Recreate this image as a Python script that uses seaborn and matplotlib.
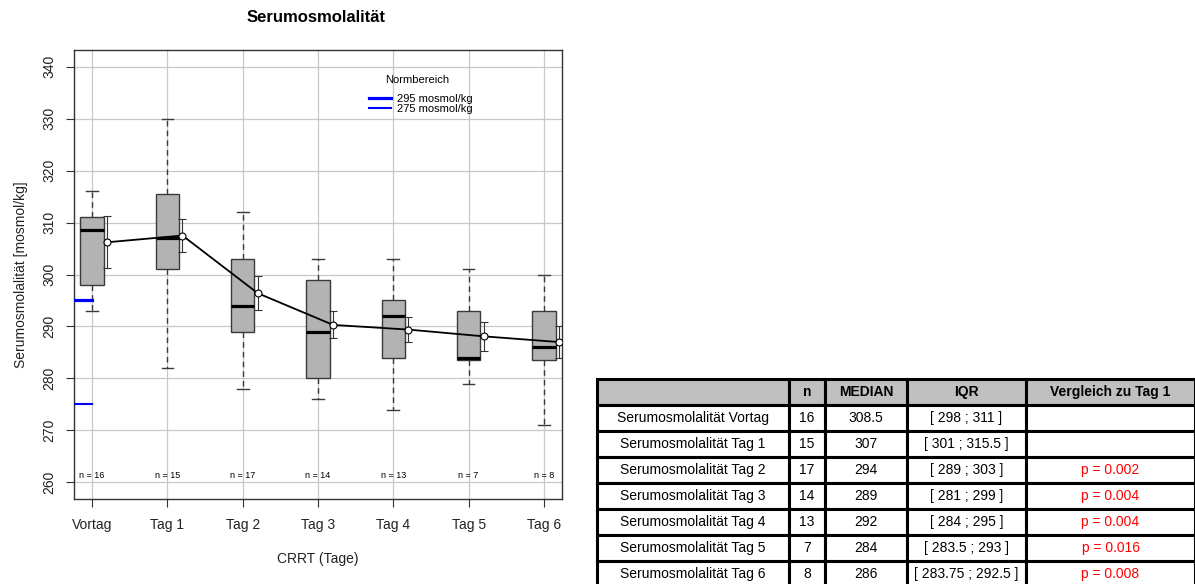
import numpy as np
import pandas as pd
import matplotlib
matplotlib.use("Agg")
import matplotlib.pyplot as plt
import seaborn as sns
from matplotlib.lines import Line2D

plt.rcParams['font.family'] = ['Liberation Sans', 'DejaVu Sans']

# ---- data ----
days = ["Vortag", "Tag 1", "Tag 2", "Tag 3", "Tag 4", "Tag 5", "Tag 6"]
whisk_low = [293, 282, 278, 276, 274, 279, 271]
q1 = [298, 301, 289, 280, 284, 283.5, 283.5]
medians = [308.5, 307, 294, 289, 292, 284, 286]
q3 = [311, 315.5, 303, 299, 295, 293, 293]
whisk_high = [316, 330, 312, 303, 303, 301, 300]
means = [306.2, 307.5, 296.4, 290.3, 289.4, 288.1, 287.0]
ci_half = [5.0, 3.1, 3.3, 2.6, 2.4, 2.85, 3.1]
n_counts = [16, 15, 17, 14, 13, 7, 8]
norm_values = [295, 275]
norm_labels = ["295 mosmol/kg", "275 mosmol/kg"]

table_header = ["", "n", "MEDIAN", "IQR", "Vergleich zu Tag 1"]
table_rows = ["Serumosmolalität Vortag", "Serumosmolalität Tag 1", "Serumosmolalität Tag 2",
              "Serumosmolalität Tag 3", "Serumosmolalität Tag 4", "Serumosmolalität Tag 5",
              "Serumosmolalität Tag 6"]
table_n = ["16", "15", "17", "14", "13", "7", "8"]
table_median = ["308.5", "307", "294", "289", "292", "284", "286"]
table_iqr = ["[ 298 ; 311 ]", "[ 301 ; 315.5 ]", "[ 289 ; 303 ]", "[ 281 ; 299 ]",
             "[ 284 ; 295 ]", "[ 283.5 ; 293 ]", "[ 283.75 ; 292.5 ]"]
table_p = ["", "", "p = 0.002", "p = 0.004", "p = 0.004", "p = 0.016", "p = 0.008"]

# five-number summaries as long data
records = []
for d, a, b, c, e, f in zip(days, whisk_low, q1, medians, q3, whisk_high):
    for v in (a, b, c, e, f):
        records.append({"day": d, "value": v})
df = pd.DataFrame(records)

W, H = 1195, 584
fig = plt.figure(figsize=(W / 100, H / 100), dpi=100)
ax = fig.add_axes([74 / W, (H - 499) / H, (562 - 74) / W, (499 - 50) / H])

sns.boxplot(data=df, x="day", y="value", order=days, whis=np.inf, width=0.31,
            color="#b3b3b3", saturation=1, linecolor="#3a3a3a", linewidth=1.0,
            showfliers=False,
            medianprops=dict(color="black", linewidth=2.3),
            whiskerprops=dict(linestyle=(0, (4, 3)), color="#3a3a3a"),
            capprops=dict(color="#3a3a3a"),
            ax=ax)
ax.set_axisbelow(True)
ax.xaxis.grid(True, color="#c8c8c8", linewidth=0.9)
ax.yaxis.grid(True, color="#c8c8c8", linewidth=0.9)

pos = np.arange(len(days))
xm = pos + 0.2
ax.errorbar(xm, means, yerr=ci_half, fmt="none", ecolor="#333333",
            elinewidth=0.8, capsize=3, capthick=0.8, zorder=4)
sns.lineplot(x=xm, y=means, color="black", linewidth=1.3, marker="o",
             markersize=5, markerfacecolor="white", markeredgecolor="black",
             markeredgewidth=0.8, sort=False, ax=ax, zorder=5)

ax.set_xlim(-0.24, 6.24)
ax.set_ylim(256.8, 343.2)

# normal range markers
ax.plot([-0.24, 0], [norm_values[0]] * 2, color="blue", lw=2.3, zorder=6)
ax.plot([-0.24, 0], [norm_values[1]] * 2, color="blue", lw=1.5, zorder=6)
handles = [Line2D([], [], color="blue", lw=2.3), Line2D([], [], color="blue", lw=1.5)]
ax.legend(handles, norm_labels, loc="upper left",
          bbox_to_anchor=((363 - 74) / 488, (499 - 88) / 449), frameon=False, fontsize=8,
          borderpad=0, labelspacing=0.05, handlelength=2.0, handletextpad=0.6)
ax.text((417 - 74) / 488, (499 - 80) / 449, "Normbereich", transform=ax.transAxes,
        ha="center", va="center", fontsize=8)

for i, n in enumerate(n_counts):
    ax.text(pos[i], 261.3, f"n = {n}", ha="center", va="center", fontsize=6.5)

ax.set_yticks(np.arange(260, 341, 10))
ax.set_yticklabels([str(v) for v in range(260, 341, 10)], rotation=90, va="center")
ax.set_xticks(pos)
ax.set_xticklabels(days)
ax.tick_params(axis="x", length=6, pad=8, labelsize=10, color="#333333", labelcolor="#222222")
ax.tick_params(axis="y", length=6, pad=7, labelsize=10, color="#333333", labelcolor="#222222")
for s in ax.spines.values():
    s.set_color("#333333")
    s.set_linewidth(1.0)
ax.set_xlabel("CRRT (Tage)", fontsize=10, labelpad=14, color="#222222")
ax.set_ylabel("Serumosmolalität [mosmol/kg]", fontsize=10, labelpad=10, color="#222222")

fig.text(316 / W, 1 - 18 / H, "Serumosmolalität", ha="center", va="center",
         fontsize=12, fontweight="bold")

# ---- table ----
tax = fig.add_axes([597 / W, -3 / H, 598 / W, 208 / H])
tax.axis("off")
cell_text = [[r, n, m, q, p] for r, n, m, q, p in zip(table_rows, table_n, table_median, table_iqr, table_p)]
widths = np.array([192, 36, 82, 119, 169], dtype=float)
tbl = tax.table(cellText=cell_text, colLabels=table_header, colWidths=list(widths / widths.sum()),
                cellLoc="center", bbox=[0, 0, 1, 1])
tbl.auto_set_font_size(False)
for (r, c), cell in tbl.get_celld().items():
    cell.set_linewidth(2.2)
    cell.set_edgecolor("black")
    cell.get_text().set_fontsize(10)
    if r == 0:
        cell.set_facecolor("#c0c0c0")
        cell.get_text().set_fontweight("bold")
    if c == 4 and r > 0:
        cell.get_text().set_color("red")

fig.savefig("out.png", dpi=100)
